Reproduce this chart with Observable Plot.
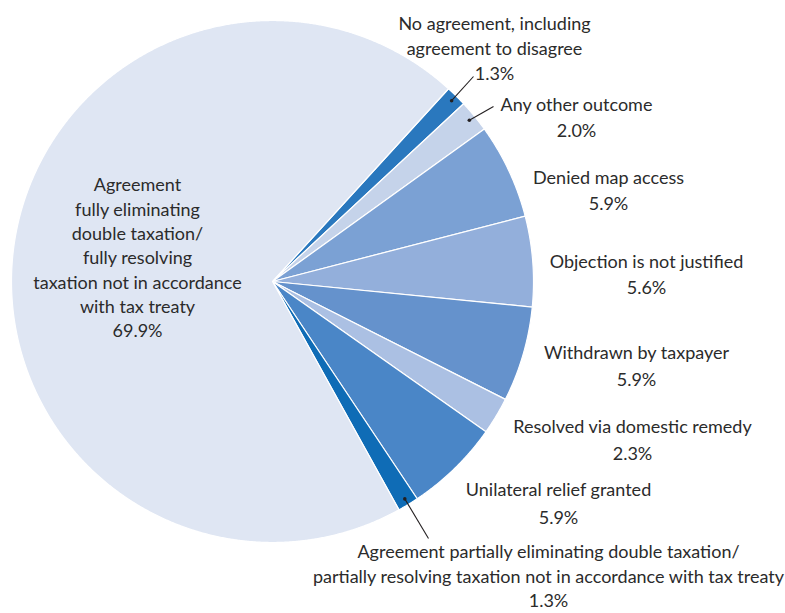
<!DOCTYPE html>
<html>
<head>
<meta charset="utf-8">
<script src="https://cdn.jsdelivr.net/npm/d3@7"></script>
<script src="https://cdn.jsdelivr.net/npm/@observablehq/plot@0.6"></script>
<style>
  html, body { margin: 0; padding: 0; background: #fff; }
  svg { display: block; }
</style>
</head>
<body>
<div id="chart"></div>
<script>
// ---- data ----
const categories = [
  "No agreement, including agreement to disagree",
  "Any other outcome",
  "Denied map access",
  "Objection is not justified",
  "Withdrawn by taxpayer",
  "Resolved via domestic remedy",
  "Unilateral relief granted",
  "Agreement partially eliminating double taxation/partially resolving taxation not in accordance with tax treaty",
  "Agreement fully eliminating double taxation/fully resolving taxation not in accordance with tax treaty"
];
const shares = [1.3, 2.0, 5.9, 5.6, 5.9, 2.3, 5.9, 1.3, 69.9];
const labelLines = [
  ["No agreement, including", "agreement to disagree", "1.3%"],
  ["Any other outcome", "2.0%"],
  ["Denied map access", "5.9%"],
  ["Objection is not justified", "5.6%"],
  ["Withdrawn by taxpayer", "5.9%"],
  ["Resolved via domestic remedy", "2.3%"],
  ["Unilateral relief granted", "5.9%"],
  ["Agreement partially eliminating double taxation/", "partially resolving taxation not in accordance with tax treaty", "1.3%"],
  ["Agreement", "fully eliminating", "double taxation/", "fully resolving", "taxation not in accordance", "with tax treaty", "69.9%"]
];
const colors = ["#2a78be", "#c5d3ea", "#7ba1d4", "#93afdb", "#6592cc", "#abc0e3", "#4a86c7", "#0f6cb6", "#dfe6f3"];

// ---- layout ----
const W = 785, H = 613;
const cx = 272, cy = 281, R = 261;
const startDeg = 42.4;
const fontSize = 18;
// label block centres [x, y, line height px]
const labelPos = [
  [494, 46, 25], [576, 115, 26], [608, 188, 26], [646, 272, 26], [636, 363.5, 27],
  [632, 437.5, 27], [558, 501, 28], [548, 574.5, 24.5], [137, 256, 24.3]
];
// leader line label-end points for the small slices
const leaders = [
  {i: 0, x: 473, y: 76},
  {i: 1, x: 493, y: 106},
  {i: 7, x: 428, y: 538}
];

const rad = Math.PI / 180;
const arcs = d3.pie().sort(null).value(d => d)
  .startAngle(startDeg * rad).endAngle(startDeg * rad + 2 * Math.PI)(shares);

const polyPts = [];
arcs.forEach((a, i) => {
  polyPts.push({k: i, x: cx, y: cy, c: colors[i]});
  const n = Math.max(2, Math.ceil((a.endAngle - a.startAngle) / (0.25 * rad)));
  for (let j = 0; j <= n; j++) {
    const t = a.startAngle + (a.endAngle - a.startAngle) * j / n;
    polyPts.push({k: i, x: cx + R * Math.sin(t), y: cy - R * Math.cos(t), c: colors[i]});
  }
});

const labelData = labelLines.map((lines, i) => ({
  text: lines.join("\n"), x: labelPos[i][0], y: labelPos[i][1], lh: labelPos[i][2]
}));

const leaderData = leaders.map(l => {
  const a = arcs[l.i];
  const m = (a.startAngle + a.endAngle) / 2;
  return {x1: l.x, y1: l.y, x2: cx + R * 0.975 * Math.sin(m), y2: cy - R * 0.975 * Math.cos(m)};
});

const font = "Lato, 'Open Sans', sans-serif";
const textMarks = labelData.map(d => Plot.text([d], {
  x: "x", y: "y", text: "text", textAnchor: "middle", lineAnchor: "middle",
  lineHeight: d.lh / fontSize, fontSize: fontSize, fill: "#2b2b2b", fontFamily: font
}));

const chart = Plot.plot({
  width: W, height: H,
  margin: 0,
  x: {domain: [0, W], range: [0, W], axis: null},
  y: {domain: [0, H], range: [0, H], axis: null},
  style: {background: "#fff", fontFamily: font},
  marks: [
    Plot.line(polyPts, {x: "x", y: "y", z: "k", fill: "c", stroke: "#ffffff", strokeWidth: 1.2, curve: "linear-closed", strokeLinejoin: "round"}),
    Plot.link(leaderData, {x1: "x1", y1: "y1", x2: "x2", y2: "y2", stroke: "#231f20", strokeWidth: 1.1}),
    Plot.dot(leaderData, {x: "x2", y: "y2", r: 1.8, fill: "#231f20", stroke: null}),
    ...textMarks
  ]
});
document.getElementById("chart").appendChild(chart);
</script>
</body>
</html>
